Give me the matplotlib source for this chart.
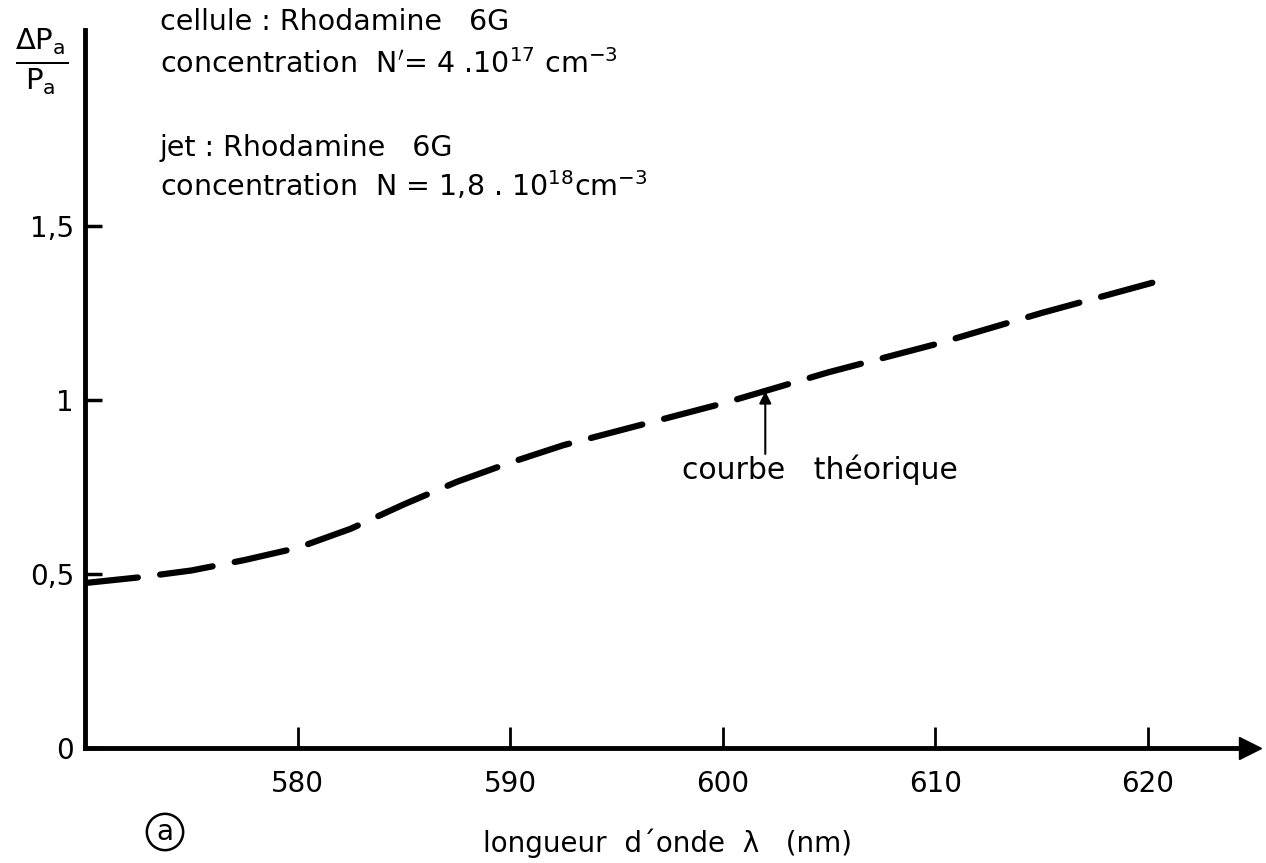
import matplotlib.pyplot as plt

# wavelength (nm) and relative power variation
wavelength = [570, 572.5, 575, 577.5, 580, 582.5, 585, 587.5, 590, 592.5, 595,
              597.5, 600, 602.5, 605, 607.5, 610, 612.5, 615, 618, 621]
delta_p = [0.474, 0.49, 0.51, 0.54, 0.575, 0.63, 0.70, 0.765, 0.82, 0.87, 0.91,
           0.95, 0.99, 1.035, 1.08, 1.12, 1.16, 1.205, 1.25, 1.30, 1.35]

xticks = [580, 590, 600, 610, 620]
yticks = [0, 0.5, 1, 1.5]
ytick_labels = ["0", "0,5", "1", "1,5"]

plt.rcParams['font.family'] = ['DejaVu Sans']
plt.rcParams['mathtext.fontset'] = 'dejavusans'

fig = plt.figure(figsize=(12.66, 8.63), dpi=100)
ax = fig.add_axes([85/1266, 115/863, 1165/1266, 718/863])

ax.plot(wavelength, delta_p, color="black", lw=4.5, dashes=(8.5, 3.6),
        solid_capstyle="round", dash_capstyle="round")

ax.set_xlim(570, 624.8)
ax.set_ylim(0, 2.063)

for s in ["top", "right"]:
    ax.spines[s].set_visible(False)
for s in ["left", "bottom"]:
    ax.spines[s].set_linewidth(3.5)

# arrow heads on the axes
ax.plot(1, 0, ">k", ms=16, transform=ax.get_yaxis_transform(), clip_on=False)
ax.plot(0, 1, "^k", ms=16, transform=ax.get_xaxis_transform(), clip_on=False)

ax.set_xticks(xticks)
ax.set_xticklabels([str(t) for t in xticks])
ax.set_yticks(yticks)
ax.set_yticklabels(ytick_labels)
ax.tick_params(axis="x", direction="in", length=15, width=2, pad=-2, labelsize=20)
ax.tick_params(axis="y", direction="in", length=12, width=2.5, pad=8, labelsize=20)
for lab in ax.get_xticklabels():
    lab.set_y(-0.035)

ax.set_xlabel("longueur  d\u00b4onde  \u03bb   (nm)", fontsize=20, labelpad=22)

# y label as a fraction
fig.text(42/1266, 1 - 62/863, r"$\frac{\Delta \mathrm{P_a}}{\mathrm{P_a}}$", fontsize=30,
         ha="center", va="center")

fig.text(160/1266, 1 - 22/863, "cellule : Rhodamine   6G", fontsize=20.5, va="center")
fig.text(160/1266, 1 - 64/863, r"concentration  N$'$= 4 .10$^{17}$ cm$^{-3}$",
         fontsize=20.5, va="center")
fig.text(160/1266, 1 - 148/863, "jet : Rhodamine   6G", fontsize=20.5, va="center")
fig.text(160/1266, 1 - 186/863, r"concentration  N = 1,8 . 10$^{18}$cm$^{-3}$",
         fontsize=20.5, va="center")

# annotation of the curve
ax.text(598.1, 0.80, "courbe   th\u00e9orique", fontsize=21.5, ha="left", va="center")
ax.annotate("", xy=(602.0, 1.025), xytext=(602.0, 0.845),
            arrowprops=dict(arrowstyle="-|>", color="black", lw=1.5,
                            mutation_scale=18, shrinkA=0, shrinkB=0))

fig.text(165/1266, 1 - 832/863, "a", fontsize=20, ha="center", va="center",
         bbox=dict(boxstyle="circle,pad=0.15", fc="white", ec="black", lw=1.8))

fig.savefig("out.png", dpi=100)
